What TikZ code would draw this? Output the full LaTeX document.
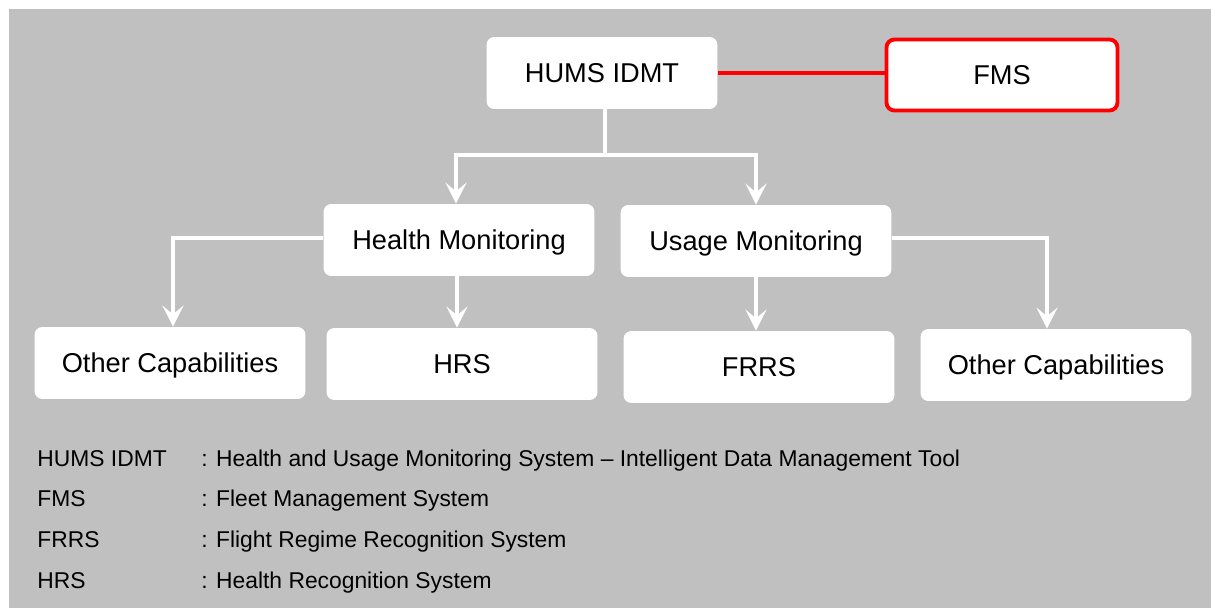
\documentclass[tikz,border=0pt]{standalone}
\usepackage{fontspec}
\setmainfont{Liberation Sans}
\usetikzlibrary{arrows.meta}

\definecolor{bggray}{HTML}{C0C0C0}
\definecolor{fmsred}{HTML}{FF0000}

\tikzset{
	box/.style={fill=white, rounded corners=4.5pt, minimum width=5.42cm, minimum height=1.44cm, inner sep=0pt, text height=11.1pt, text depth=0pt, font=\fontsize{15.5}{18}\selectfont},
	redbox/.style={box, draw=fmsred, line width=2.2pt, minimum width=4.62cm, minimum height=1.42cm},
	trunk/.style={draw=white, line width=2.2pt},
	branch/.style={trunk, -{Stealth[length=12pt, width=12pt, inset=5pt]}},
	legend/.style={anchor=base west, inner sep=0pt, font=\fontsize{13}{15}\selectfont},
}

\begin{document}
\begin{tikzpicture}[x=0.02cm, y=-0.02cm]
			\useasboundingbox (0,0) rectangle (1211,608);
			\fill[bggray] (9,9) rectangle (1211,608);

			\node[box, minimum width=4.62cm] (hums) at (602,73) {HUMS IDMT};
			\node[redbox] (fms) at (1002,75) {FMS};

			\node[box] (hm) at (459,240) {Health Monitoring};
			\node[box] (um) at (756,241) {Usage Monitoring};

			\node[box] (ocl) at (170,363) {Other Capabilities};
			\node[box] (hrs) at (462,364) {HRS};
			\node[box] (frrs) at (759,367) {FRRS};
			\node[box] (ocr) at (1056,365) {Other Capabilities};

			\draw[draw=fmsred, line width=2.6pt] (hums.east) -- (hums.east -| fms.west);

			\coordinate (split) at (605,155);
			\draw[trunk] (hums.south -| split) -- (split);
			\draw[branch] (split) -| ([xshift=-0.06cm]hm.north);
			\draw[branch] (split) -| (um.north);

			\draw[branch] ([yshift=0.04cm]hm.west) -| ([xshift=0.06cm]ocl.north);
			\draw[branch] ([xshift=-0.04cm]hm.south) -- ([xshift=-0.04cm]hm.south |- hrs.north);
			\draw[branch] (um.south) -- (um.south |- frrs.north);
			\draw[branch] ([yshift=0.06cm]um.east) -| ([xshift=-0.18cm]ocr.north);

			\node[legend] (k1) at (37,466) {HUMS IDMT};
			\node[legend] (k2) at (37,506) {FMS};
			\node[legend] (k3) at (37,547) {FRRS};
			\node[legend] (k4) at (37,588) {HRS};
			\node[legend] (d1) at (201,466) {: Health and Usage Monitoring System -- Intelligent Data Management Tool};
			\node[legend] (d2) at (201,506) {: Fleet Management System};
			\node[legend] (d3) at (201,547) {: Flight Regime Recognition System};
			\node[legend] (d4) at (201,588) {: Health Recognition System};
		\end{tikzpicture}
\end{document}
